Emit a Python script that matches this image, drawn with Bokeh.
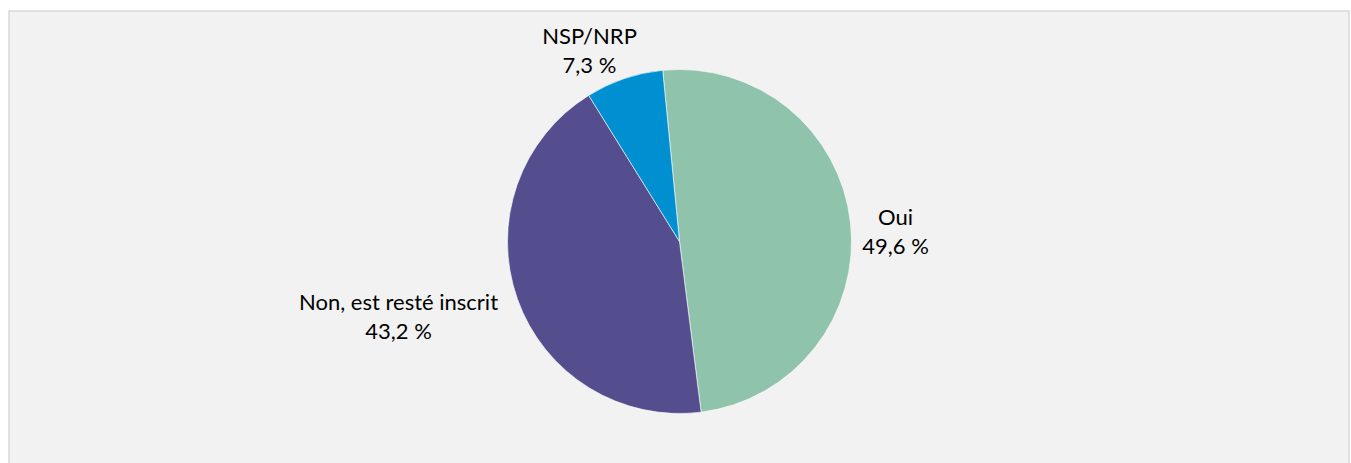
import math
from bokeh.plotting import figure
from bokeh.models import Range1d, Span, ColumnDataSource
from bokeh.core.properties import value
from bokeh.embed import file_html
from bokeh.resources import INLINE

# data
categories = ["Oui", "Non, est resté inscrit", "NSP/NRP"]
percents = [49.6, 43.2, 7.3]
value_labels = ["49,6 %", "43,2 %", "7,3 %"]
colors = ["#8FC3AB", "#544E8E", "#008FD0"]

# layout (screen-like data units)
W, H = 1341, 453
cx, cy, R = 671, 222, 172
rotation = math.radians(95.6)
label_pos = [(887, 233), (390, 148), (581, 414)]  # centre of two-line label
line_gap = 29

total = sum(percents)
starts, ends = [], []
cum = 0.0
for v in percents:
    a0 = rotation - cum / total * 2 * math.pi
    cum += v
    a1 = rotation - cum / total * 2 * math.pi
    starts.append(a0)
    ends.append(a1)

p = figure(width=1351, height=463, output_backend="svg", toolbar_location=None,
           x_range=Range1d(0, W), y_range=Range1d(0, H),
           min_border_left=8, min_border_right=2, min_border_top=10, min_border_bottom=0)
p.axis.visible = False
p.grid.visible = False
p.outline_line_color = None
p.background_fill_color = "#F2F2F2"
p.border_fill_color = "white"

src = ColumnDataSource(dict(start=starts, end=ends, color=colors))
p.wedge(x=cx, y=cy, radius=R, start_angle="start", end_angle="end", direction="clock",
        fill_color="color", line_color="white", line_width=0.6, source=src)

for edge in [Span(location=0, dimension="height"), Span(location=W, dimension="height"),
             Span(location=H, dimension="width")]:
    edge.line_color = "#CCCCCC"
    edge.line_width = 2
    p.add_layout(edge)

tx, ty, tt = [], [], []
for (lx, ly), c, vl in zip(label_pos, categories, value_labels):
    tx += [lx, lx]
    ty += [ly + line_gap / 2, ly - line_gap / 2]
    tt += [c, vl]
p.text(x=tx, y=ty, text=tt, text_align="center", text_baseline="middle",
       text_font=value("Lato"), text_font_size="22px", text_color="#000000")

open("out.html", "w").write(file_html(p, INLINE))
